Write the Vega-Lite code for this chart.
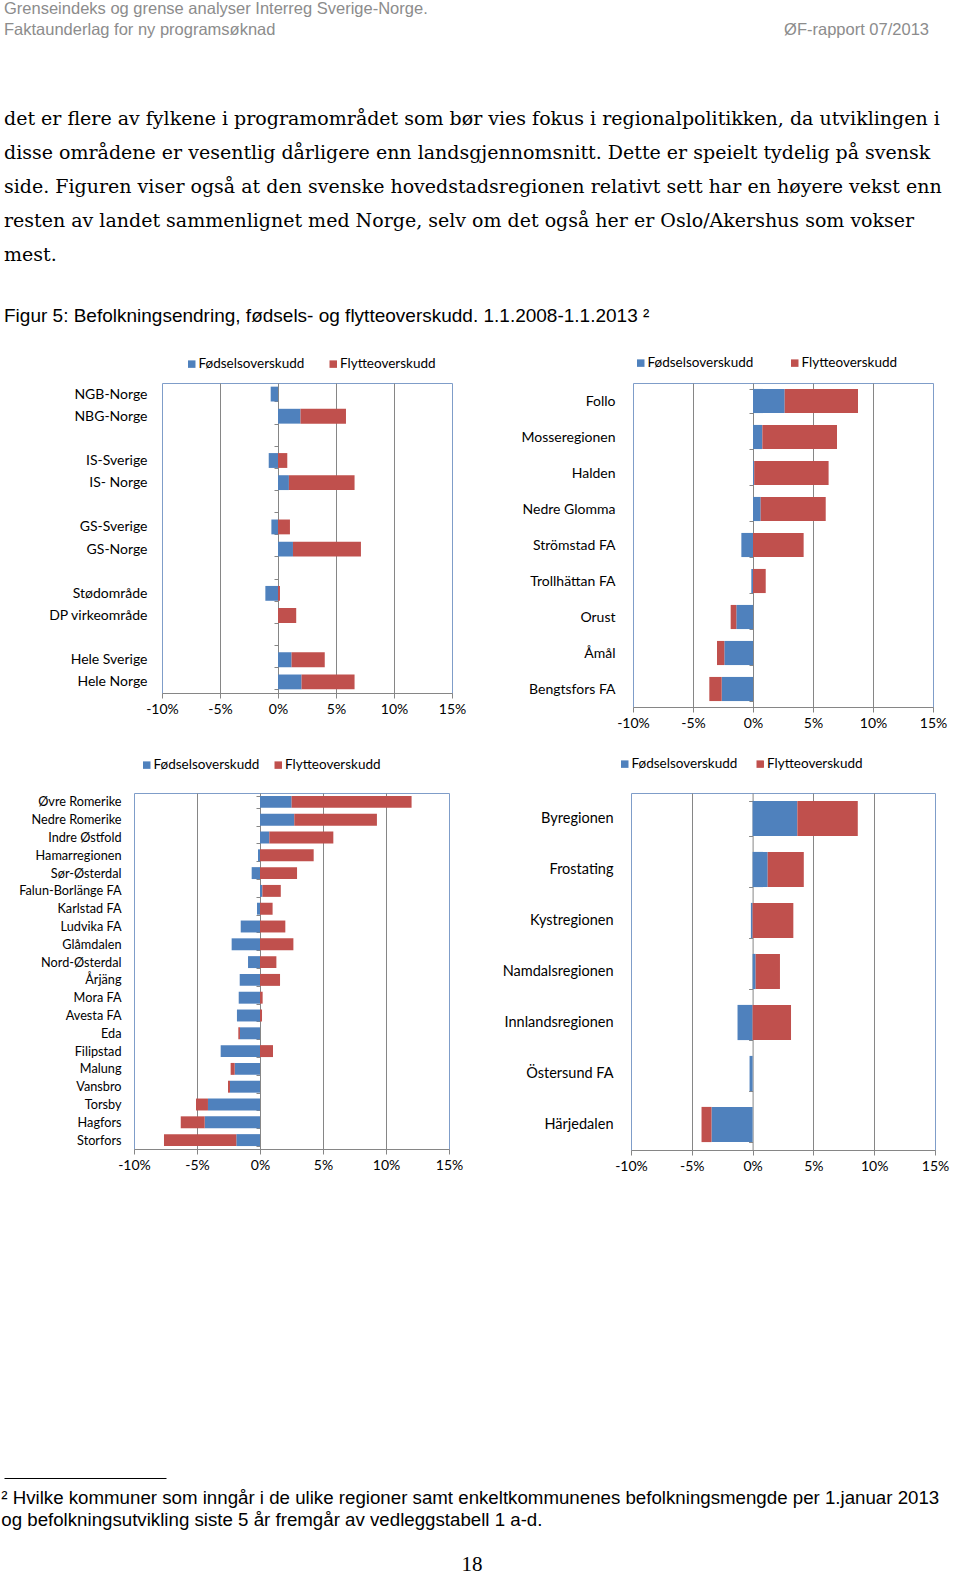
{
  "$schema": "https://vega.github.io/schema/vega-lite/v6.json",
  "padding": {"left": 1, "top": 0, "right": 0, "bottom": 0},
  "background": "white",
  "spacing": 0,
  "resolve": {"scale": {"color": "independent"}, "legend": {"color": "independent"}},
  "datasets": {
    "p1": [
      {"region": "NGB-Norge", "komponent": "Fødselsoverskudd", "pst": -0.63}, {"region": "NGB-Norge", "komponent": "Flytteoverskudd", "pst": 0},
      {"region": "NBG-Norge", "komponent": "Fødselsoverskudd", "pst": 1.94}, {"region": "NBG-Norge", "komponent": "Flytteoverskudd", "pst": 3.92},
      {"region": "IS-Sverige", "komponent": "Fødselsoverskudd", "pst": -0.8}, {"region": "IS-Sverige", "komponent": "Flytteoverskudd", "pst": 0.8},
      {"region": "IS- Norge", "komponent": "Fødselsoverskudd", "pst": 0.94}, {"region": "IS- Norge", "komponent": "Flytteoverskudd", "pst": 5.66},
      {"region": "GS-Sverige", "komponent": "Fødselsoverskudd", "pst": -0.57}, {"region": "GS-Sverige", "komponent": "Flytteoverskudd", "pst": 1.03},
      {"region": "GS-Norge", "komponent": "Fødselsoverskudd", "pst": 1.29}, {"region": "GS-Norge", "komponent": "Flytteoverskudd", "pst": 5.86},
      {"region": "Stødområde", "komponent": "Fødselsoverskudd", "pst": -1.09}, {"region": "Stødområde", "komponent": "Flytteoverskudd", "pst": 0.17},
      {"region": "DP virkeområde", "komponent": "Fødselsoverskudd", "pst": 0}, {"region": "DP virkeområde", "komponent": "Flytteoverskudd", "pst": 1.57},
      {"region": "Hele Sverige", "komponent": "Fødselsoverskudd", "pst": 1.17}, {"region": "Hele Sverige", "komponent": "Flytteoverskudd", "pst": 2.86},
      {"region": "Hele Norge", "komponent": "Fødselsoverskudd", "pst": 2.03}, {"region": "Hele Norge", "komponent": "Flytteoverskudd", "pst": 4.57}
    ],
    "p2": [
      {"region": "Follo", "komponent": "Fødselsoverskudd", "pst": 2.64}, {"region": "Follo", "komponent": "Flytteoverskudd", "pst": 6.11},
      {"region": "Mosseregionen", "komponent": "Fødselsoverskudd", "pst": 0.78}, {"region": "Mosseregionen", "komponent": "Flytteoverskudd", "pst": 6.22},
      {"region": "Halden", "komponent": "Fødselsoverskudd", "pst": 0.1}, {"region": "Halden", "komponent": "Flytteoverskudd", "pst": 6.2},
      {"region": "Nedre Glomma", "komponent": "Fødselsoverskudd", "pst": 0.64}, {"region": "Nedre Glomma", "komponent": "Flytteoverskudd", "pst": 5.42},
      {"region": "Strömstad FA", "komponent": "Fødselsoverskudd", "pst": -0.97}, {"region": "Strömstad FA", "komponent": "Flytteoverskudd", "pst": 4.22},
      {"region": "Trollhättan FA", "komponent": "Fødselsoverskudd", "pst": -0.14}, {"region": "Trollhättan FA", "komponent": "Flytteoverskudd", "pst": 1.06},
      {"region": "Orust", "komponent": "Fødselsoverskudd", "pst": -1.39}, {"region": "Orust", "komponent": "Flytteoverskudd", "pst": -0.47},
      {"region": "Åmål", "komponent": "Fødselsoverskudd", "pst": -2.39}, {"region": "Åmål", "komponent": "Flytteoverskudd", "pst": -0.61},
      {"region": "Bengtsfors FA", "komponent": "Fødselsoverskudd", "pst": -2.61}, {"region": "Bengtsfors FA", "komponent": "Flytteoverskudd", "pst": -1.03}
    ],
    "p3": [
      {"region": "Øvre Romerike", "komponent": "Fødselsoverskudd", "pst": 2.51}, {"region": "Øvre Romerike", "komponent": "Flytteoverskudd", "pst": 9.52},
      {"region": "Nedre Romerike", "komponent": "Fødselsoverskudd", "pst": 2.72}, {"region": "Nedre Romerike", "komponent": "Flytteoverskudd", "pst": 6.56},
      {"region": "Indre Østfold", "komponent": "Fødselsoverskudd", "pst": 0.74}, {"region": "Indre Østfold", "komponent": "Flytteoverskudd", "pst": 5.08},
      {"region": "Hamarregionen", "komponent": "Fødselsoverskudd", "pst": -0.16}, {"region": "Hamarregionen", "komponent": "Flytteoverskudd", "pst": 4.26},
      {"region": "Sør-Østerdal", "komponent": "Fødselsoverskudd", "pst": -0.66}, {"region": "Sør-Østerdal", "komponent": "Flytteoverskudd", "pst": 2.94},
      {"region": "Falun-Borlänge FA", "komponent": "Fødselsoverskudd", "pst": 0.19}, {"region": "Falun-Borlänge FA", "komponent": "Flytteoverskudd", "pst": 1.46},
      {"region": "Karlstad FA", "komponent": "Fødselsoverskudd", "pst": -0.24}, {"region": "Karlstad FA", "komponent": "Flytteoverskudd", "pst": 1.0},
      {"region": "Ludvika FA", "komponent": "Fødselsoverskudd", "pst": -1.53}, {"region": "Ludvika FA", "komponent": "Flytteoverskudd", "pst": 2.01},
      {"region": "Glåmdalen", "komponent": "Fødselsoverskudd", "pst": -2.25}, {"region": "Glåmdalen", "komponent": "Flytteoverskudd", "pst": 2.65},
      {"region": "Nord-Østerdal", "komponent": "Fødselsoverskudd", "pst": -0.95}, {"region": "Nord-Østerdal", "komponent": "Flytteoverskudd", "pst": 1.3},
      {"region": "Årjäng", "komponent": "Fødselsoverskudd", "pst": -1.61}, {"region": "Årjäng", "komponent": "Flytteoverskudd", "pst": 1.59},
      {"region": "Mora FA", "komponent": "Fødselsoverskudd", "pst": -1.69}, {"region": "Mora FA", "komponent": "Flytteoverskudd", "pst": 0.21},
      {"region": "Avesta FA", "komponent": "Fødselsoverskudd", "pst": -1.83}, {"region": "Avesta FA", "komponent": "Flytteoverskudd", "pst": 0.16},
      {"region": "Eda", "komponent": "Fødselsoverskudd", "pst": -1.59}, {"region": "Eda", "komponent": "Flytteoverskudd", "pst": -0.13},
      {"region": "Filipstad", "komponent": "Fødselsoverskudd", "pst": -3.12}, {"region": "Filipstad", "komponent": "Flytteoverskudd", "pst": 1.03},
      {"region": "Malung", "komponent": "Fødselsoverskudd", "pst": -2.01}, {"region": "Malung", "komponent": "Flytteoverskudd", "pst": -0.32},
      {"region": "Vansbro", "komponent": "Fødselsoverskudd", "pst": -2.38}, {"region": "Vansbro", "komponent": "Flytteoverskudd", "pst": -0.16},
      {"region": "Torsby", "komponent": "Fødselsoverskudd", "pst": -4.13}, {"region": "Torsby", "komponent": "Flytteoverskudd", "pst": -0.95},
      {"region": "Hagfors", "komponent": "Fødselsoverskudd", "pst": -4.39}, {"region": "Hagfors", "komponent": "Flytteoverskudd", "pst": -1.9},
      {"region": "Storfors", "komponent": "Fødselsoverskudd", "pst": -1.88}, {"region": "Storfors", "komponent": "Flytteoverskudd", "pst": -5.74}
    ],
    "p4": [
      {"region": "Byregionen", "komponent": "Fødselsoverskudd", "pst": 3.68}, {"region": "Byregionen", "komponent": "Flytteoverskudd", "pst": 4.97},
      {"region": "Frostating", "komponent": "Fødselsoverskudd", "pst": 1.24}, {"region": "Frostating", "komponent": "Flytteoverskudd", "pst": 2.97},
      {"region": "Kystregionen", "komponent": "Fødselsoverskudd", "pst": -0.14}, {"region": "Kystregionen", "komponent": "Flytteoverskudd", "pst": 3.35},
      {"region": "Namdalsregionen", "komponent": "Fødselsoverskudd", "pst": 0.25}, {"region": "Namdalsregionen", "komponent": "Flytteoverskudd", "pst": 2.0},
      {"region": "Innlandsregionen", "komponent": "Fødselsoverskudd", "pst": -1.24}, {"region": "Innlandsregionen", "komponent": "Flytteoverskudd", "pst": 3.16},
      {"region": "Östersund FA", "komponent": "Fødselsoverskudd", "pst": -0.25}, {"region": "Östersund FA", "komponent": "Flytteoverskudd", "pst": 0},
      {"region": "Härjedalen", "komponent": "Fødselsoverskudd", "pst": -3.38}, {"region": "Härjedalen", "komponent": "Flytteoverskudd", "pst": -0.82}
    ]
  },
  "config": {
    "font": "Lato",
    "view": {"stroke": "#7F9DC9", "strokeWidth": 1},
    "title": {"fontWeight": "normal", "color": "#000000", "anchor": "start"},
    "axisX": {
      "labelExpr": "datum.value + '%'",
      "labelFlush": false,
      "labelFont": "Lato",
      "labelFontSize": 14,
      "labelColor": "#000000",
      "labelPadding": 4,
      "domainColor": "#868686",
      "tickColor": "#868686",
      "tickSize": 5,
      "grid": true,
      "gridColor": "#868686",
      "title": null
    },
    "axisY": {
      "domainColor": "#868686",
      "tickColor": "#868686",
      "tickSize": 4,
      "tickBand": "extent",
      "grid": false,
      "title": null,
      "labelFont": "Lato",
      "labelFontSize": 14,
      "labelColor": "#000000",
      "labelLimit": 0
    },
    "legend": {
      "orient": "none",
      "direction": "horizontal",
      "title": null,
      "symbolType": "square",
      "symbolSize": 56,
      "symbolStrokeWidth": 0,
      "labelFont": "Lato",
      "labelFontSize": 13.5,
      "labelColor": "#000000",
      "labelOffset": 0
    }
  },
  "vconcat": [
    {
      "hconcat": [
        {
          "width": 760, "height": 68, "view": {"stroke": null},
          "data": {"values": [{}]}, "mark": "text", "encoding": {"text": {"value": ""}},
          "title": {"text": ["Grenseindeks og grense analyser Interreg Sverige-Norge.", "Faktaunderlag for ny programsøknad"], "font": "Liberation Sans", "fontSize": 16.5, "lineHeight": 21, "color": "#8c8c8c", "anchor": "start", "offset": 4}
        },
        {
          "width": 165, "height": 68, "view": {"stroke": null},
          "data": {"values": [{}]}, "mark": "text", "encoding": {"text": {"value": ""}},
          "title": {"text": "ØF-rapport 07/2013", "font": "Liberation Sans", "fontSize": 16.5, "color": "#8c8c8c", "anchor": "end", "offset": 4}
        }
      ],
      "spacing": 0
    },
    {
      "width": 936, "height": 27, "view": {"stroke": null},
      "data": {"values": [{}]}, "mark": "text", "encoding": {"text": {"value": ""}},
      "title": {
        "text": [
          "det er flere av fylkene i programområdet som bør vies fokus i regionalpolitikken, da utviklingen i",
          "disse områdene er vesentlig dårligere enn landsgjennomsnitt. Dette er speielt tydelig på svensk",
          "side. Figuren viser også at den svenske hovedstadsregionen relativt sett har en høyere vekst enn",
          "resten av landet sammenlignet med Norge, selv om det også her er Oslo/Akershus som vokser",
          "mest."
        ],
        "subtitle": "Figur 5: Befolkningsendring, fødsels- og flytteoverskudd.  1.1.2008-1.1.2013 ²",
        "font": "DejaVu Serif", "fontSize": 19, "lineHeight": 34, "color": "#000000",
        "subtitleFont": "Liberation Sans", "subtitleFontSize": 19, "subtitleColor": "#000000",
        "subtitlePadding": 42, "anchor": "start", "offset": 2
      }
    },
    {
      "hconcat": [
        {
          "width": 1, "height": 1, "view": {"stroke": null},
          "data": {"values": [{}]}, "mark": "text", "encoding": {"text": {"value": ""}}
        },
        {
          "width": 290, "height": 310,
          "data": {"name": "p1"},
          "mark": {"type": "bar"},
          "encoding": {
            "y": {"field": "region", "type": "nominal",
              "scale": {"domain": ["NGB-Norge", "NBG-Norge", " ", "IS-Sverige", "IS- Norge", "  ", "GS-Sverige", "GS-Norge", "   ", "Stødområde", "DP virkeområde", "    ", "Hele Sverige", "Hele Norge"], "paddingInner": 0.33, "paddingOuter": 0.165},
              "axis": {"offset": -116, "labelPadding": 127, "minExtent": 262, "maxExtent": 262}},
            "x": {"field": "pst", "type": "quantitative", "stack": "zero",
              "scale": {"domain": [-10, 15], "nice": false, "zero": false},
              "axis": {"values": [-10, -5, 0, 5, 10, 15], "minExtent": 40, "maxExtent": 40, "gridColor": {"condition": {"test": "datum.value == -10 || datum.value == 0 || datum.value == 15", "value": "transparent"}, "value": "#868686"}}},
            "color": {"field": "komponent", "type": "nominal",
              "scale": {"domain": ["Fødselsoverskudd", "Flytteoverskudd"], "range": ["#4F81BD", "#C0504D"]},
              "legend": {"legendX": 23, "legendY": -26, "columnPadding": 21.5}},
            "order": {"field": "komponent", "sort": "descending"}
          }
        },
        {
          "width": 300, "height": 324,
          "data": {"name": "p2"},
          "mark": {"type": "bar"},
          "encoding": {
            "y": {"field": "region", "type": "nominal",
              "scale": {"domain": ["Follo", "Mosseregionen", "Halden", "Nedre Glomma", "Strömstad FA", "Trollhättan FA", "Orust", "Åmål", "Bengtsfors FA"], "paddingInner": 0.33, "paddingOuter": 0.165},
              "axis": {"offset": -120, "labelPadding": 134, "minExtent": 275, "maxExtent": 275}},
            "x": {"field": "pst", "type": "quantitative", "stack": "zero",
              "scale": {"domain": [-10, 15], "nice": false, "zero": false},
              "axis": {"values": [-10, -5, 0, 5, 10, 15], "minExtent": 48, "maxExtent": 48, "gridColor": {"condition": {"test": "datum.value == -10 || datum.value == 0 || datum.value == 15", "value": "transparent"}, "value": "#868686"}}},
            "color": {"field": "komponent", "type": "nominal",
              "scale": {"domain": ["Fødselsoverskudd", "Flytteoverskudd"], "range": ["#4F81BD", "#C0504D"]},
              "legend": {"legendX": 1, "legendY": -27, "columnPadding": 34}},
            "order": {"field": "komponent", "sort": "descending"}
          }
        }
      ],
      "spacing": 10,
      "resolve": {"scale": {"color": "independent"}, "legend": {"color": "independent"}}
    },
    {
      "hconcat": [
        {
          "width": 1, "height": 1, "view": {"stroke": null},
          "data": {"values": [{}]}, "mark": "text", "encoding": {"text": {"value": ""}}
        },
        {
          "width": 315, "height": 356,
          "data": {"name": "p3"},
          "mark": {"type": "bar"},
          "encoding": {
            "y": {"field": "region", "type": "nominal",
              "scale": {"domain": ["Øvre Romerike", "Nedre Romerike", "Indre Østfold", "Hamarregionen", "Sør-Østerdal", "Falun-Borlänge FA", "Karlstad FA", "Ludvika FA", "Glåmdalen", "Nord-Østerdal", "Årjäng", "Mora FA", "Avesta FA", "Eda", "Filipstad", "Malung", "Vansbro", "Torsby", "Hagfors", "Storfors"], "paddingInner": 0.33, "paddingOuter": 0.165},
              "axis": {"offset": -126, "labelPadding": 135, "labelFontSize": 12.7, "minExtent": 244, "maxExtent": 244}},
            "x": {"field": "pst", "type": "quantitative", "stack": "zero",
              "scale": {"domain": [-10, 15], "nice": false, "zero": false},
              "axis": {"values": [-10, -5, 0, 5, 10, 15], "gridColor": {"condition": {"test": "datum.value == -10 || datum.value == 0 || datum.value == 15", "value": "transparent"}, "value": "#868686"}}},
            "color": {"field": "komponent", "type": "nominal",
              "scale": {"domain": ["Fødselsoverskudd", "Flytteoverskudd"], "range": ["#4F81BD", "#C0504D"]},
              "legend": {"legendX": 6, "legendY": -35, "columnPadding": 11.5}},
            "order": {"field": "komponent", "sort": "descending"}
          }
        },
        {
          "width": 304, "height": 357,
          "data": {"name": "p4"},
          "mark": {"type": "bar"},
          "encoding": {
            "y": {"field": "region", "type": "nominal",
              "scale": {"domain": ["Byregionen", "Frostating", "Kystregionen", "Namdalsregionen", "Innlandsregionen", "Östersund FA", "Härjedalen"], "paddingInner": 0.31, "paddingOuter": 0.155},
              "axis": {"offset": -121.6, "labelPadding": 135.6, "labelFontSize": 14.5, "minExtent": 277.6, "maxExtent": 277.6}},
            "x": {"field": "pst", "type": "quantitative", "stack": "zero",
              "scale": {"domain": [-10, 15], "nice": false, "zero": false},
              "axis": {"values": [-10, -5, 0, 5, 10, 15], "gridColor": {"condition": {"test": "datum.value == -10 || datum.value == 0 || datum.value == 15", "value": "transparent"}, "value": "#868686"}}},
            "color": {"field": "komponent", "type": "nominal",
              "scale": {"domain": ["Fødselsoverskudd", "Flytteoverskudd"], "range": ["#4F81BD", "#C0504D"]},
              "legend": {"legendX": -13, "legendY": -36, "columnPadding": 15.5}},
            "order": {"field": "komponent", "sort": "descending"}
          }
        }
      ],
      "spacing": 10,
      "resolve": {"scale": {"color": "independent"}, "legend": {"color": "independent"}}
    },
    {
      "width": 162, "height": 304, "view": {"stroke": null},
      "data": {"values": [{"v": 0}]},
      "mark": {"type": "point", "opacity": 0},
      "encoding": {
        "x": {"field": "v", "type": "quantitative", "scale": {"domain": [0, 1]},
          "axis": {"orient": "bottom", "domain": true, "domainColor": "#000000", "domainWidth": 1, "ticks": false, "labels": false, "grid": false, "title": null}}
      },
      "title": {
        "text": ["² Hvilke kommuner som inngår i de ulike regioner samt enkeltkommunenes befolkningsmengde per 1.januar 2013", "og befolkningsutvikling siste 5 år fremgår av vedleggstabell 1 a-d."],
        "orient": "bottom", "anchor": "start", "font": "Liberation Sans", "fontSize": 18.7, "lineHeight": 22, "color": "#000000", "offset": 11
      }
    },
    {
      "width": 936, "height": 24, "view": {"stroke": null},
      "data": {"values": [{}]}, "mark": "text", "encoding": {"text": {"value": ""}},
      "title": {"text": "18", "orient": "bottom", "anchor": "middle", "font": "Liberation Serif", "fontSize": 21, "color": "#000000", "offset": 0}
    }
  ]
}
